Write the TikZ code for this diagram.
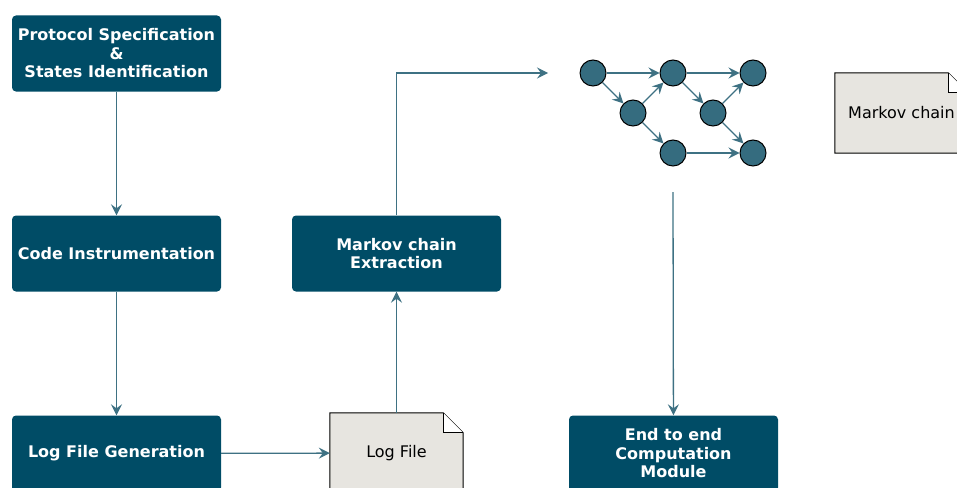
\documentclass[tikz,border=0pt]{standalone}
\usepackage{fontspec}
\setmainfont{DejaVu Sans}
\usetikzlibrary{arrows.meta}
\definecolor{boxc}{HTML}{004C66}
\definecolor{linec}{HTML}{3E7183}
\definecolor{statec}{HTML}{356C7F}
\definecolor{notec}{HTML}{E7E5E0}
\tikzset{
  stepbox/.style={rectangle, rounded corners=4pt, fill=boxc, text=white,
    font=\fontsize{16}{18.5}\selectfont\bfseries, align=center,
    minimum width=209pt, minimum height=76pt, inner sep=2pt},
  notebox/.style={rectangle, minimum width=133pt, minimum height=80pt,
    inner sep=0pt},
  notetext/.style={font=\fontsize{16}{18.5}\selectfont, align=center},
  notepath/.style={draw=black, fill=notec, line width=1pt},
  state/.style={circle, draw=black, fill=statec, line width=1pt,
    minimum size=26pt, inner sep=0pt},
  flow/.style={draw=linec, line width=1.3pt,
    -{Stealth[length=11pt, width=11pt, inset=4pt]}},
}
\newcommand{\dogear}[1]{%
  \path[notepath] (#1.north west) -- ([xshift=-20pt]#1.north east)
    -- ([yshift=-20pt]#1.north east) -- (#1.south east) -- (#1.south west) -- cycle;
  \path[notepath, fill=white] ([xshift=-20pt]#1.north east)
    -- ([xshift=-20pt,yshift=-20pt]#1.north east)
    -- ([yshift=-20pt]#1.north east);
}
\begin{document}
\begin{tikzpicture}[x=1pt, y=-1pt]
\useasboundingbox (0,0) rectangle (957,487);
\clip (0,0) rectangle (957,487);

% process steps
\node[stepbox] (spec) at (116.5,53.5) {Protocol Specification\\\&\\States Identification};
\node[stepbox] (instr) at (116.5,253.5) {Code Instrumentation};
\node[stepbox] (loggen) at (116.5,453.5) {Log File Generation};
\node[stepbox] (extract) at (396.5,253.5) {Markov chain\\Extraction};
\node[stepbox] (e2e) at (673.5,453.5) {End to end\\Computation\\Module};

% notes with folded corner
\node[notebox] (logfile) at (396.5,453) {};
\dogear{logfile}
\node[notetext] at (logfile) {Log File};
\node[notebox] (mcnote) at (901.5,113) {};
\dogear{mcnote}
\node[notetext] at (mcnote) {Markov chain};

% flow connectors
\draw[flow] (spec) -- (instr);
\draw[flow] (instr) -- (loggen);
\draw[flow] (loggen) -- (logfile);
\draw[flow] (logfile) -- (extract);
\coordinate (chainin) at (548,73);
\coordinate (chainout) at (673,192);
\draw[flow] (extract.north) |- (chainin);
\draw[flow] (chainout) -- (e2e);

% Markov chain graph
\node[state] (s1) at (593,73) {};
\node[state] (s2) at (633,113) {};
\node[state] (s3) at (673,73) {};
\node[state] (s4) at (673,153) {};
\node[state] (s5) at (713,113) {};
\node[state] (s6) at (753,73) {};
\node[state] (s7) at (753,153) {};
\draw[flow] (s1) -- (s3);
\draw[flow] (s1) -- (s2);
\draw[flow] (s2) -- (s3);
\draw[flow] (s2) -- (s4);
\draw[flow] (s3) -- (s6);
\draw[flow] (s3) -- (s5);
\draw[flow] (s5) -- (s6);
\draw[flow] (s5) -- (s7);
\draw[flow] (s4) -- (s7);
\end{tikzpicture}
\end{document}
